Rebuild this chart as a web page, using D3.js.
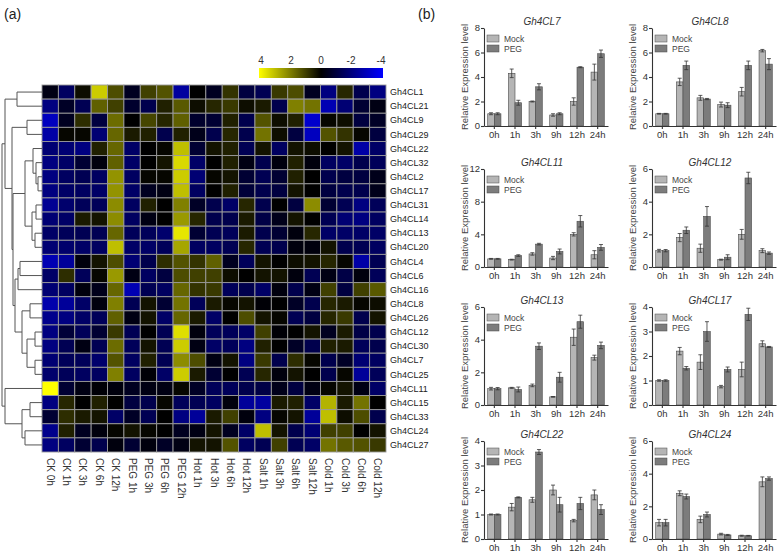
<!DOCTYPE html>
<html><head><meta charset="utf-8">
<script src="https://cdn.jsdelivr.net/npm/d3@7"></script>
<style>body{margin:0;background:#fff} svg{font-family:"Liberation Sans",Arial,sans-serif}</style>
</head><body><svg id="c" width="778" height="553"></svg>
<script>
// ---------------- DATA ----------------
const rowLabels = ["Gh4CL1","Gh4CL21","Gh4CL9","Gh4CL29","Gh4CL22","Gh4CL32","Gh4CL2","Gh4CL17","Gh4CL31","Gh4CL14","Gh4CL13","Gh4CL20","Gh4CL4","Gh4CL6","Gh4CL16","Gh4CL8","Gh4CL26","Gh4CL12","Gh4CL30","Gh4CL7","Gh4CL25","Gh4CL11","Gh4CL15","Gh4CL33","Gh4CL24","Gh4CL27"];
const colLabels = ["CK 0h","CK 1h","CK 3h","CK 6h","CK 12h","PEG 1h","PEG 3h","PEG 6h","PEG 12h","Hot 1h","Hot 3h","Hot 6h","Hot 12h","Salt 1h","Salt 3h","Salt 6h","Salt 12h","Cold 1h","Cold 3h","Cold 6h","Cold 12h"];
const heatValues = [
 [-0.3,-1.5,0.2,3.2,1.2,-0.5,1.0,1.3,-2.5,0.0,-0.5,0.8,-1.0,-1.3,0.9,1.2,-0.5,-2.0,0.6,-1.2,-2.0],
 [-2.0,-0.6,-1.3,1.5,1.0,-0.7,-1.2,0.5,1.4,0.2,0.6,0.9,0.2,0.4,-1.2,2.0,1.8,-2.8,-1.8,-0.8,-0.3],
 [-3.0,-0.5,0.7,-1.0,1.7,0.0,1.1,0.6,1.5,-0.7,-0.8,0.5,-1.2,1.3,0.2,0.5,-3.2,0.1,0.2,-1.0,-0.6],
 [-2.6,0.1,0.1,-1.8,1.6,0.4,0.5,-1.2,0.5,-0.4,-1.2,0.6,-1.2,1.8,0.2,-1.0,-3.0,1.3,0.8,0.1,-1.0],
 [-1.8,-1.8,-2.0,0.5,1.6,-1.6,0.0,0.1,3.0,-0.8,0.3,0.5,-1.3,0.3,-1.5,0.3,0.2,0.0,0.3,-2.6,-1.6],
 [-2.0,-1.6,-0.8,-0.2,1.5,-1.6,0.0,0.3,3.4,-1.6,0.0,0.5,-0.3,-1.2,-0.2,0.5,-0.2,-1.5,-1.6,-1.2,-1.4],
 [-2.0,-1.5,-1.3,-1.5,2.3,-1.5,0.1,0.1,3.2,-1.8,0.1,0.3,-0.8,-1.3,-0.8,0.5,0.0,-1.2,-1.0,-1.0,-0.4],
 [-2.0,-1.6,-1.5,-1.6,2.3,-1.6,-0.5,-0.3,3.0,-1.5,0.0,0.5,-0.9,-1.2,-1.0,0.3,0.0,-1.0,-1.2,-1.2,-0.4],
 [-2.3,-1.7,-1.4,-1.4,2.2,-1.5,0.5,0.0,2.0,-0.6,-1.2,-1.6,0.6,-1.2,0.0,-1.0,2.2,-0.8,-1.3,-2.0,-1.4],
 [-1.8,-1.6,0.4,0.3,2.2,-1.5,-0.3,0.0,2.4,0.6,-1.2,-1.2,0.4,-1.1,-0.4,0.3,0.0,-1.3,-1.8,-2.0,-1.5],
 [-1.6,-1.4,-1.3,-1.3,1.6,-1.4,-1.4,-1.7,3.6,-0.8,-1.3,-1.4,0.4,-1.2,-0.8,-0.2,0.6,-1.6,-1.6,-1.6,-1.6],
 [-1.8,-1.7,-1.6,-1.5,3.0,-1.6,-1.6,-1.4,2.6,-1.5,-1.5,-1.3,0.6,-1.3,-1.2,-0.2,-0.2,0.3,-1.2,-1.3,-1.5],
 [-2.8,-2.4,-0.2,0.3,1.2,-1.8,-1.2,0.7,1.3,0.8,1.5,-0.5,-1.4,0.3,0.0,0.2,0.3,0.6,0.1,-2.6,-1.3],
 [-1.6,0.7,-1.4,0.1,2.4,-0.3,-1.5,-1.0,1.2,1.0,1.0,0.2,0.0,0.3,0.3,-0.2,-1.3,-0.3,-1.1,-0.2,-1.4],
 [-1.8,-1.5,-0.2,-0.4,1.6,-2.8,-1.3,-1.5,1.6,0.8,0.9,-1.4,-1.2,-1.6,-0.2,-1.2,-0.3,1.0,-1.0,1.0,1.4],
 [-2.7,-2.4,-1.6,-0.2,2.0,-1.3,0.3,-0.8,1.8,-1.4,0.4,0.1,0.3,-0.1,0.0,-0.6,-1.2,0.6,0.4,0.1,0.2],
 [-2.2,-2.0,-1.6,-1.4,1.5,-0.3,0.3,-1.6,1.6,0.4,-1.6,0.0,1.2,0.3,0.1,-1.3,-1.0,0.6,0.9,-1.2,0.3],
 [-2.0,-0.9,-1.4,-0.8,0.9,-1.3,0.0,-1.3,3.5,-0.2,-1.4,-1.4,-1.6,1.0,-0.1,0.0,0.3,-0.5,0.4,-1.1,-1.2],
 [-2.0,-1.3,-0.3,-1.3,1.7,-1.4,0.3,-1.3,3.2,-0.3,-1.6,-1.4,-2.0,0.5,0.0,-0.6,-1.2,0.5,0.4,-1.4,-1.2],
 [-1.8,-1.4,-1.4,-1.7,1.3,-1.5,0.5,-1.3,2.2,1.2,-0.3,0.3,-2.0,0.9,-1.2,0.7,0.1,-1.2,-0.6,-1.8,-1.5],
 [-1.7,-1.4,-1.5,-1.5,2.0,-1.5,-0.1,-1.6,3.2,0.4,-0.8,0.0,-1.3,0.6,-0.2,0.3,0.0,-1.2,0.1,-2.4,-1.4],
 [4.0,-0.8,-0.3,-0.1,-0.2,-0.5,-0.3,-0.3,0.1,-0.6,-1.4,-1.4,-1.2,-1.1,-0.4,-1.0,-0.3,0.1,0.3,-0.3,-1.6],
 [-2.0,0.6,0.0,0.5,0.0,-1.0,-1.2,0.1,-1.4,-1.3,-1.5,-0.2,-2.4,-2.5,0.4,0.5,-1.6,2.8,0.4,1.8,0.0],
 [-0.8,0.7,0.4,0.3,-1.6,-0.6,-1.3,0.0,-2.0,-2.4,0.4,1.0,-0.2,-2.0,0.1,0.3,-2.4,3.0,0.2,1.2,-1.2],
 [-2.2,0.5,-0.5,-0.2,0.1,0.3,0.1,0.0,-0.5,-0.3,0.3,-0.5,-1.6,3.0,0.3,-1.2,-1.8,1.0,1.0,0.0,0.3],
 [-2.0,-1.5,-0.8,-1.2,-0.2,-0.8,-0.2,-0.6,-0.3,0.3,0.3,1.3,-1.5,-1.3,1.0,-1.3,-1.6,1.8,1.4,1.3,0.9]
];
const colorTicks = [4,2,0,-2,-4];
// dendrogram: h = merge height, c = children (leaf = row label)
const dendroTree = {h:40,c:[
  {h:37,c:[
    {h:25,c:["Gh4CL1","Gh4CL21"]},
    {h:30,c:[
      {h:15,c:["Gh4CL9","Gh4CL29"]},
      {h:29,c:[
        {h:17,c:[
          {h:9,c:["Gh4CL22",{h:6,c:["Gh4CL32",{h:4,c:["Gh4CL2","Gh4CL17"]}]}]},
          {h:10,c:[{h:6,c:["Gh4CL31","Gh4CL14"]},{h:7,c:["Gh4CL13","Gh4CL20"]}]}
        ]},
        {h:27,c:[
          {h:24,c:[{h:22,c:["Gh4CL4","Gh4CL6"]},"Gh4CL16"]},
          {h:20,c:[{h:12,c:["Gh4CL8","Gh4CL26"]},{h:15,c:[{h:7,c:["Gh4CL12","Gh4CL30"]},{h:7,c:["Gh4CL7","Gh4CL25"]}]}]}
        ]}
      ]}
    ]}
  ]},
  {h:37,c:["Gh4CL11",{h:20,c:[{h:12,c:["Gh4CL15","Gh4CL33"]},{h:17,c:["Gh4CL24","Gh4CL27"]}]}]}
]};

const timePoints = ["0h","1h","3h","9h","12h","24h"];
const treatments = ["Mock","PEG"];
const geneNames = ["Gh4CL7","Gh4CL8","Gh4CL11","Gh4CL12","Gh4CL13","Gh4CL17","Gh4CL22","Gh4CL24"];
const yMaxes = [8,8,12,6,6,4,4,6];
const yTickSteps = [2,2,4,2,2,1,1,2];
const mockMean = [
 [1.0,4.3,2.0,0.9,2.0,4.4],
 [1.0,3.6,2.3,1.75,2.8,6.15],
 [1.0,0.9,1.6,1.1,4.0,1.5],
 [1.0,1.8,1.15,0.45,2.0,1.0],
 [1.0,1.05,1.2,0.5,4.15,2.9],
 [1.0,2.2,1.75,0.75,1.45,2.5],
 [1.0,1.3,1.6,2.0,0.75,1.8],
 [1.0,2.8,1.2,0.3,0.2,3.5]
];
const mockErr = [
 [0.08,0.35,0.04,0.1,0.3,0.65],
 [0.03,0.3,0.2,0.2,0.35,0.1],
 [0.05,0.05,0.15,0.2,0.2,0.5],
 [0.08,0.25,0.25,0.03,0.3,0.12],
 [0.08,0.03,0.08,0.02,0.5,0.15],
 [0.03,0.15,0.3,0.05,0.3,0.12],
 [0.02,0.15,0.1,0.2,0.05,0.2],
 [0.2,0.15,0.2,0.05,0.03,0.3]
];
const pegMean = [
 [1.0,1.9,3.2,1.0,4.8,5.9],
 [1.0,4.95,2.2,1.7,4.95,5.05],
 [1.0,1.4,2.8,1.9,5.6,2.4],
 [1.0,2.25,3.1,0.6,5.45,0.85],
 [1.0,0.95,3.6,1.7,5.1,3.65],
 [1.0,1.5,3.0,1.45,3.7,2.37],
 [1.0,1.7,3.55,1.4,1.45,1.2],
 [1.0,2.6,1.5,0.25,0.2,3.7]
];
const pegErr = [
 [0.08,0.2,0.25,0.08,0.04,0.3],
 [0.03,0.35,0.05,0.2,0.35,0.45],
 [0.05,0.1,0.1,0.3,0.7,0.35],
 [0.07,0.2,0.6,0.15,0.35,0.07],
 [0.07,0.15,0.2,0.3,0.4,0.2],
 [0.03,0.07,0.4,0.1,0.25,0.02],
 [0.02,0.02,0.1,0.3,0.25,0.2],
 [0.2,0.15,0.15,0.03,0.02,0.1]
];

// ---------------- DRAW ----------------
const svg = d3.select("#c");
svg.append("rect").attr("width",778).attr("height",553).attr("fill","#fff");

svg.append("text").attr("x",4).attr("y",19).attr("font-size",14).attr("fill","#222").text("(a)");
svg.append("text").attr("x",418).attr("y",19).attr("font-size",14).attr("fill","#222").text("(b)");

// heatmap
const hx = d3.scaleBand().domain(colLabels).range([42,386]);
const hy = d3.scaleBand().domain(rowLabels).range([85,452]);
const color = d3.scaleLinear().domain([-4,0,4]).range(["#0000ff","#000000","#ffff00"]).clamp(true);

const cells = [];
heatValues.forEach((row,i)=>row.forEach((v,j)=>cells.push({r:rowLabels[i],c:colLabels[j],v})));
svg.append("g").selectAll("rect").data(cells).join("rect")
  .attr("x",d=>hx(d.c)).attr("y",d=>hy(d.r))
  .attr("width",hx.bandwidth()).attr("height",hy.bandwidth())
  .attr("fill",d=>color(d.v)).attr("stroke","#9a9a9a").attr("stroke-width",0.9);

svg.append("g").selectAll("text").data(rowLabels).join("text")
  .attr("x",390).attr("y",d=>hy(d)+hy.bandwidth()/2).attr("dy","0.35em")
  .attr("font-size",9).attr("fill","#222").text(d=>d);

svg.append("g").selectAll("text").data(colLabels).join("text")
  .attr("transform",d=>`translate(${hx(d)+hx.bandwidth()/2-3.5},458) rotate(90)`)
  .attr("font-size",10).attr("fill","#333").text(d=>d);

// color bar
const defs = svg.append("defs");
const grad = defs.append("linearGradient").attr("id","cbar");
[[0,4],[0.5,0],[1,-4]].forEach(([o,v])=>grad.append("stop").attr("offset",o).attr("stop-color",color(v)));
svg.append("rect").attr("x",259).attr("y",68).attr("width",124).attr("height",10).attr("fill","url(#cbar)");
const cbx = d3.scaleLinear().domain([4,-4]).range([261,381]);
svg.append("g").selectAll("text").data(colorTicks).join("text")
  .attr("x",d=>cbx(d)).attr("y",64).attr("text-anchor","middle")
  .attr("font-size",10).attr("fill","#333").text(d=>d);

// dendrogram
const dx = d3.scaleLinear().domain([0,40]).range([42,2]);
const dg = svg.append("g").attr("stroke","#555").attr("stroke-width",1).attr("fill","none");
function layoutNode(n){
  if(typeof n === "string") return {x:dx(0), y:hy(n)+hy.bandwidth()/2};
  const kids = n.c.map(layoutNode);
  const x = dx(n.h);
  const y = (kids[0].y + kids[kids.length-1].y)/2;
  dg.append("line").attr("x1",x).attr("x2",x).attr("y1",kids[0].y).attr("y2",kids[kids.length-1].y);
  kids.forEach(k=>dg.append("line").attr("x1",x).attr("x2",k.x).attr("y1",k.y).attr("y2",k.y));
  return {x,y};
}
layoutNode(dendroTree);

// bar panels
const colX = [484,652], plotW = 124, rowTop = [28,169,307,441], plotH = 98;
const fills = {Mock:"#b5b5b5", PEG:"#7c7c7c"};
geneNames.forEach((g,i)=>{
  const x0 = colX[i%2], top = rowTop[Math.floor(i/2)];
  const p = svg.append("g");
  const x = d3.scaleBand().domain(timePoints).range([x0,x0+plotW]).paddingInner(0.36).paddingOuter(0.18);
  const xs = d3.scaleBand().domain(treatments).range([0,x.bandwidth()]);
  const y = d3.scaleLinear().domain([0,yMaxes[i]]).range([top+plotH,top]);
  const data = [];
  timePoints.forEach((t,k)=>{
    data.push({t,s:"Mock",v:mockMean[i][k],e:mockErr[i][k]});
    data.push({t,s:"PEG",v:pegMean[i][k],e:pegErr[i][k]});
  });
  p.selectAll("rect.bar").data(data).join("rect").attr("class","bar")
    .attr("x",d=>x(d.t)+xs(d.s)).attr("y",d=>y(d.v))
    .attr("width",xs.bandwidth()).attr("height",d=>y(0)-y(d.v))
    .attr("fill",d=>fills[d.s]).attr("stroke","#4a4a4a").attr("stroke-width",0.6);
  const eb = p.append("g").attr("stroke","#333").attr("stroke-width",0.8);
  data.forEach(d=>{
    const cx = x(d.t)+xs(d.s)+xs.bandwidth()/2;
    eb.append("line").attr("x1",cx).attr("x2",cx).attr("y1",y(d.v-d.e)).attr("y2",y(d.v+d.e));
    eb.append("line").attr("x1",cx-2).attr("x2",cx+2).attr("y1",y(d.v+d.e)).attr("y2",y(d.v+d.e));
    eb.append("line").attr("x1",cx-2).attr("x2",cx+2).attr("y1",y(d.v-d.e)).attr("y2",y(d.v-d.e));
  });
  const yticks = d3.range(0,yMaxes[i]+0.001,yTickSteps[i]);
  const ya = p.append("g").attr("transform",`translate(${x0},0)`)
    .call(d3.axisLeft(y).tickValues(yticks).tickSize(3).tickSizeOuter(0).tickFormat(""));
  const xa = p.append("g").attr("transform",`translate(0,${top+plotH})`)
    .call(d3.axisBottom(x).tickSize(3).tickSizeOuter(0).tickPadding(2));
  [ya,xa].forEach(a=>{
    a.selectAll("path,line").attr("stroke","#333").attr("stroke-width",1.1);
  });
  xa.selectAll("text").attr("font-size",9.5).attr("fill","#333").attr("font-family","Liberation Sans, Arial, sans-serif");
  p.append("g").selectAll("text").data(yticks).join("text")
    .attr("x",x0-4).attr("y",d=>y(d)).attr("dy","0.34em").attr("text-anchor","end")
    .attr("font-size",9.5).attr("fill","#333").text(d=>d);
  p.append("text").attr("x",x0+plotW/2-4).attr("y",top-3).attr("text-anchor","middle")
    .attr("font-size",10).attr("font-style","italic").attr("fill","#333").text(g);
  p.append("text").attr("transform",`translate(${x0-16},${top+plotH/2}) rotate(-90)`)
    .attr("text-anchor","middle").attr("font-size",9.5).attr("fill","#444").text("Relative Expression level");
  treatments.forEach((s,k)=>{
    p.append("rect").attr("x",x0+3).attr("y",top+7+k*10).attr("width",12).attr("height",7)
      .attr("fill",fills[s]).attr("stroke","#4a4a4a").attr("stroke-width",0.5);
    p.append("text").attr("x",x0+20).attr("y",top+13.5+k*10).attr("font-size",8.5).attr("fill","#444").text(s);
  });
});
</script></body></html>
